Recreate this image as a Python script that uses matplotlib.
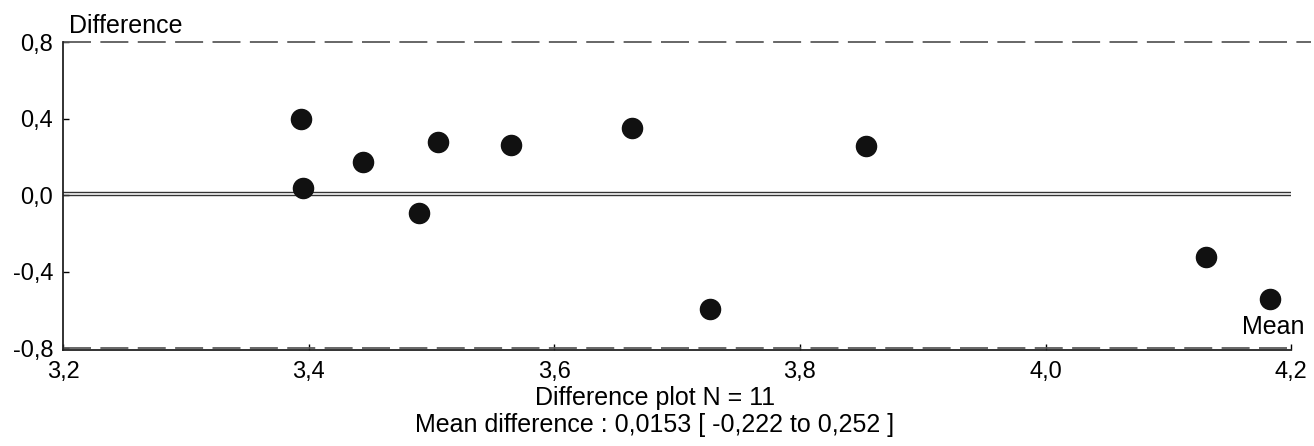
import numpy as np
import matplotlib.pyplot as plt
import matplotlib.ticker as mtick

plt.rcParams['font.family'] = ['Liberation Sans', 'DejaVu Sans']

# mean of the two methods (x) and their difference (y)
means = [3.394, 3.395, 3.444, 3.490, 3.505, 3.565, 3.663, 3.727, 3.854, 4.131, 4.183]
diffs = [0.399, 0.038, 0.176, -0.092, 0.277, 0.260, 0.353, -0.592, 0.255, -0.321, -0.543]

mean_diff = 0.0153
ci_low, ci_high = -0.222, 0.252
limits = [0.8, -0.8]
n = len(means)

xticks = [3.2, 3.4, 3.6, 3.8, 4.0, 4.2]
yticks = [0.8, 0.4, 0.0, -0.4, -0.8]


def comma(v, pos=None):
    return ("%.1f" % v).replace(".", ",")


fig = plt.figure(figsize=(13.14, 4.46), dpi=100)
ax = fig.add_axes([0.048, 0.2152, 0.9346, 0.6906])

# zero line and mean difference line
ax.axhline(0, color='#333333', lw=1.0)
ax.axhline(mean_diff, color='#333333', lw=1.0)

# dashed limit lines
dash = (0, (15.5, 5.2))
ax.plot([3.2, 4.216], [limits[0], limits[0]], color='#5a5a5a', lw=1.3,
        linestyle=dash, clip_on=False, scalex=False, scaley=False)
ax.plot([3.2, 4.2], [limits[1], limits[1]], color='#5a5a5a', lw=1.3,
        linestyle=dash, clip_on=False, scalex=False, scaley=False)

ax.scatter(means, diffs, s=210, color='#111111', zorder=3, clip_on=False)

ax.set_xlim(3.2, 4.2)
ax.set_ylim(-0.808, 0.8)
ax.set_xticks(xticks)
ax.set_yticks(yticks)
ax.xaxis.set_major_formatter(mtick.FuncFormatter(comma))
ax.yaxis.set_major_formatter(mtick.FuncFormatter(comma))
ax.tick_params(direction='in', length=4, width=1, labelsize=17)
ax.tick_params(axis='y', pad=7)
ax.tick_params(axis='x', pad=8)

for side in ['top', 'right']:
    ax.spines[side].set_visible(False)
for side in ['left', 'bottom']:
    ax.spines[side].set_linewidth(1.3)
    ax.spines[side].set_color('#222222')

ax.text(0.005, 1.012, "Difference", transform=ax.transAxes, fontsize=18,
        ha='left', va='bottom')
ax.text(1.011, 0.035, "Mean", transform=ax.transAxes, fontsize=18,
        ha='right', va='bottom')

fig.text(0.4985, 0.092, "Difference plot N = %d" % n, fontsize=18,
         ha='center', va='baseline')
fig.text(0.4985, 0.031,
         "Mean difference : %s [ %s to %s ]" % (
             ("%.4f" % mean_diff).replace(".", ","),
             ("%.3f" % ci_low).replace(".", ","),
             ("%.3f" % ci_high).replace(".", ",")),
         fontsize=18, ha='center', va='baseline')

fig.savefig('out.png', dpi=100)
